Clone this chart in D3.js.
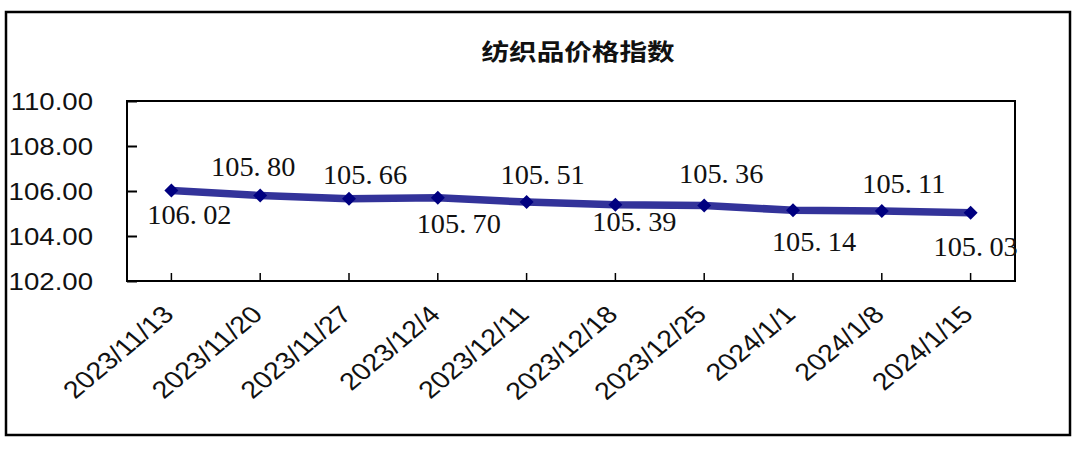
<!DOCTYPE html>
<html>
<head>
<meta charset="utf-8">
<script src="https://cdn.jsdelivr.net/npm/d3@7"></script>
<style>
  html, body { margin: 0; padding: 0; background: #fff; }
  svg { display: block; }
</style>
</head>
<body>
<svg id="chart" width="1080" height="451"></svg>
<script>
// ---- data ----
const categories = ["2023/11/13","2023/11/20","2023/11/27","2023/12/4","2023/12/11","2023/12/18","2023/12/25","2024/1/1","2024/1/8","2024/1/15"];
const values = [106.02, 105.80, 105.66, 105.70, 105.51, 105.39, 105.36, 105.14, 105.11, 105.03];
const yTicks = [102, 104, 106, 108, 110];
const title = "纺织品价格指数";

// ---- label placement (style) ----
const labelDx = [18, -7, 16, 21, 16, 19, 17, 21, 22, 5];
const labelDy = [33, -20, -15, 35, -18, 26, -22, 41, -18, 43];

// ---- layout ----
const W = 1080, H = 451;
const plot = { left: 127, right: 1015, top: 101, bottom: 281 };
const SX = 1.2; // horizontal stretch of text

const svg = d3.select("#chart");
svg.append("rect").attr("width", W).attr("height", H).attr("fill", "#fff");

// outer frame
svg.append("rect")
  .attr("x", 6).attr("y", 12).attr("width", 1064).attr("height", 423)
  .attr("fill", "none").attr("stroke", "#000").attr("stroke-width", 2.5);

// title
svg.append("text")
  .attr("transform", `translate(578,60) scale(${SX},1)`)
  .attr("text-anchor", "middle")
  .attr("font-family", "'Noto Sans CJK SC', sans-serif")
  .attr("font-weight", 700)
  .attr("font-size", 23)
  .attr("fill", "#111")
  .text(title);

const x = d3.scaleBand().domain(categories).range([plot.left, plot.right]);
const y = d3.scaleLinear().domain([102, 110]).range([plot.bottom, plot.top]);
const cx = d => x(d) + x.bandwidth() / 2;

// plot frame
svg.append("rect")
  .attr("x", plot.left).attr("y", plot.top)
  .attr("width", plot.right - plot.left).attr("height", plot.bottom - plot.top)
  .attr("fill", "none").attr("stroke", "#000").attr("stroke-width", 2);

// y axis ticks (inward)
const yAxis = d3.axisRight(y).tickValues(yTicks).tickSize(10).tickFormat("");
const gy = svg.append("g").attr("transform", `translate(${plot.left},0)`).call(yAxis);
gy.select(".domain").remove();
gy.selectAll(".tick line").attr("stroke", "#000").attr("stroke-width", 2);

// y tick labels
svg.append("g").selectAll("text").data(yTicks).join("text")
  .attr("transform", d => `translate(93,${y(d) + 9}) scale(${SX},1)`)
  .attr("text-anchor", "end")
  .attr("font-family", "'Liberation Sans', Arial, sans-serif")
  .attr("font-size", 23)
  .attr("fill", "#111")
  .text(d => d.toFixed(2));

// x axis ticks (inward)
const xAxis = d3.axisTop(x).tickSize(8).tickFormat("");
const gx = svg.append("g").attr("transform", `translate(0,${plot.bottom})`).call(xAxis);
gx.select(".domain").remove();
gx.selectAll(".tick line").attr("stroke", "#000").attr("stroke-width", 1.5);

// x tick labels
svg.append("g").selectAll("text").data(categories).join("text")
  .attr("transform", d => `translate(${cx(d) + 4},316) scale(${SX},1) rotate(-45)`)
  .attr("text-anchor", "end")
  .attr("font-family", "'Liberation Sans', Arial, sans-serif")
  .attr("font-size", 24)
  .attr("fill", "#111")
  .text(d => d);

// line
const line = d3.line().x((d, i) => cx(categories[i])).y(d => y(d));
svg.append("path")
  .datum(values)
  .attr("d", line)
  .attr("fill", "none")
  .attr("stroke", "#33339a")
  .attr("stroke-width", 7.5)
  .attr("stroke-linejoin", "round");

// markers
const sym = d3.symbol().type(d3.symbolSquare).size(98);
svg.append("g").selectAll("path").data(values).join("path")
  .attr("d", sym)
  .attr("transform", (d, i) => `translate(${cx(categories[i])},${y(d)}) rotate(45)`)
  .attr("fill", "#000080");

// data labels (full-width-style gap after the decimal point)
const lbl = svg.append("g").selectAll("text").data(values).join("text")
  .attr("transform", (d, i) => `translate(${cx(categories[i]) + labelDx[i]},${y(d) + labelDy[i]}) scale(1.05,1)`)
  .attr("text-anchor", "middle")
  .attr("font-family", "'Liberation Serif', 'Times New Roman', serif")
  .attr("font-size", 27)
  .attr("fill", "#111");
lbl.each(function(d) {
  const parts = d.toFixed(2).split(".");
  const t = d3.select(this);
  t.append("tspan").text(parts[0] + ".");
  t.append("tspan").attr("dx", 6).text(parts[1]);
});
</script>
</body>
</html>
